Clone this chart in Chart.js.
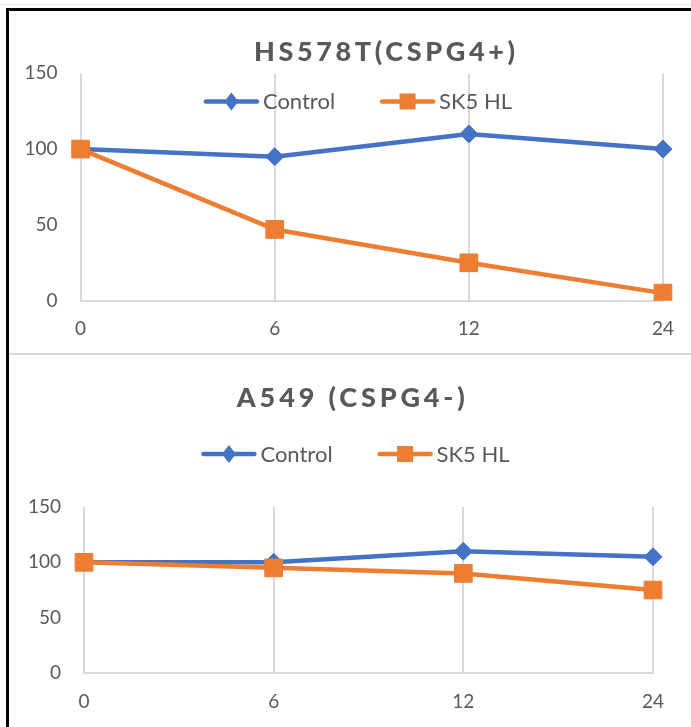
<!DOCTYPE html>
<html>
<head>
<meta charset="utf-8">
<script src="https://cdn.jsdelivr.net/npm/chart.js@4"></script>
<style>
html,body{margin:0;padding:0;background:#fff;}
body{width:691px;height:727px;position:relative;overflow:hidden;}
.grey{position:absolute;left:0;top:4px;width:691px;height:1px;background:#e3e3e3;}
.btop{position:absolute;left:6px;top:8px;width:685px;height:3px;background:#000;}
.bleft{position:absolute;left:6px;top:8px;width:3px;height:719px;background:#000;}
.sep{position:absolute;left:9px;top:353px;width:682px;height:2px;background:#d9d9d9;}
#w1{position:absolute;left:9px;top:11px;width:682px;height:342px;}
#w2{position:absolute;left:9px;top:355px;width:682px;height:372px;}
canvas{display:block;}
</style>
</head>
<body>
<div class="grey"></div>
<div class="btop"></div>
<div class="bleft"></div>
<div class="sep"></div>
<div id="w1"><canvas id="c1" width="682" height="342"></canvas></div>
<div id="w2"><canvas id="c2" width="682" height="372"></canvas></div>
<script>
// ---- data ----
const timepoints = ['0', '6', '12', '24'];
const seriesNames = ['Control', 'SK5 HL'];
const titles = ['HS578T(CSPG4+)', 'A549 (CSPG4-)'];
const hsControl = [100, 95, 110, 100];
const hsSK5 = [100, 47, 25, 5];
const a549Control = [100, 100, 110, 105];
const a549SK5 = [100, 95, 90, 75];
const yTicks = [0, 50, 100, 150];

const BLUE = '#4472C4', ORANGE = '#ED7D31', TEXT = '#595959', GRID = '#D9D9D9';
const FONT = 'Lato, "Open Sans", sans-serif';

const decor = {
  id: 'decor',
  afterDraw(chart, args, o) {
    const ctx = chart.ctx;
    ctx.save();
    // title with letter spacing
    ctx.font = '900 27px ' + FONT;
    ctx.fillStyle = TEXT;
    ctx.textBaseline = 'alphabetic';
    ctx.textAlign = 'left';
    const t = o.title;
    const n = [...t].length;
    ctx.letterSpacing = '0px';
    const w0 = ctx.measureText(t).width;
    const sp = (o.titleWidth - w0) / (n - 1);
    ctx.letterSpacing = sp + 'px';
    ctx.fillText(t, o.titleX - o.titleWidth / 2, o.titleBase);
    ctx.letterSpacing = '0px';
    // legend
    ctx.font = '22px ' + FONT;
    const items = chart.data.datasets.map(d => ({text: d.label, color: d.borderColor, style: d.pointStyle}));
    const lineLen = 55, gap = 4, itemGap = 45;
    let total = 0;
    items.forEach((it, i) => { it.w = ctx.measureText(it.text).width; total += lineLen + gap + it.w + (i ? itemGap : 0); });
    let x = o.legendX - total / 2;
    const ly = o.legendY;
    items.forEach(it => {
      ctx.strokeStyle = it.color; ctx.lineWidth = 4.5; ctx.lineCap = 'round';
      ctx.beginPath(); ctx.moveTo(x + 2, ly); ctx.lineTo(x + lineLen - 2, ly); ctx.stroke();
      const cx = x + lineLen / 2;
      ctx.fillStyle = it.color;
      ctx.beginPath();
      if (it.style === 'rectRot') {
        ctx.moveTo(cx, ly - 9); ctx.lineTo(cx + 7, ly); ctx.lineTo(cx, ly + 9); ctx.lineTo(cx - 7, ly); ctx.closePath();
      } else {
        ctx.rect(cx - 8, ly - 8, 16, 16);
      }
      ctx.fill();
      ctx.fillStyle = TEXT;
      ctx.fillText(it.text, x + lineLen + gap, o.legendBase);
      x += lineLen + gap + it.w + itemGap;
    });
    ctx.restore();
  }
};

function makeChart(id, ctrl, sk5, o) {
  return new Chart(document.getElementById(id), {
    type: 'line',
    data: {
      labels: timepoints,
      datasets: [
        {label: seriesNames[0], data: ctrl, borderColor: BLUE, backgroundColor: BLUE,
         pointStyle: 'rectRot', pointRadius: 9, pointBorderWidth: 1, borderWidth: 4.5,
         borderCapStyle: 'round', borderJoinStyle: 'round', order: 1},
        {label: seriesNames[1], data: sk5, borderColor: ORANGE, backgroundColor: ORANGE,
         pointStyle: 'rect', pointRadius: 12.5, pointBorderWidth: 1, borderWidth: 4.5,
         borderCapStyle: 'round', borderJoinStyle: 'round', order: 0}
      ]
    },
    options: {
      responsive: false, animation: false, devicePixelRatio: 1,
      layout: {padding: {left: 0, right: o.padRight, top: o.padTop, bottom: 0}},
      plugins: {
        legend: {display: false}, title: {display: false}, tooltip: {enabled: false},
        decor: o.decor
      },
      scales: {
        x: {
          type: 'category', offset: false,
          grid: {color: GRID, lineWidth: 2, drawTicks: false},
          border: {display: true, color: GRID, width: 2},
          ticks: {color: TEXT, font: {family: FONT, size: 19}, padding: 17, maxRotation: 0, autoSkip: false},
          afterFit(s) { s.height = o.xH; }
        },
        y: {
          min: 0, max: 150,
          grid: {display: false, drawTicks: false},
          border: {display: false},
          ticks: {color: TEXT, font: {family: FONT, size: 19}, padding: 23},
          afterBuildTicks(s) { s.ticks = yTicks.map(v => ({value: v})); },
          afterFit(s) { s.width = o.yW; }
        }
      }
    },
    plugins: [decor]
  });
}

function build() {
  makeChart('c1', hsControl, hsSK5, {
    padRight: 23.6, padTop: 62.3, xH: 52.3, yW: 71.6,
    decor: {title: titles[0], titleX: 375.5, titleWidth: 261, titleBase: 49.7,
            legendX: 349, legendY: 90.5, legendBase: 98.3}
  });
  makeChart('c2', a549Control, a549SK5, {
    padRight: 38, padTop: 152, xH: 54, yW: 75,
    decor: {title: titles[1], titleX: 341.8, titleWidth: 228, titleBase: 51.5,
            legendX: 346.5, legendY: 99, legendBase: 107.3}
  });
}

Promise.all([
  document.fonts.load('22px Lato'),
  document.fonts.load('900 27px Lato'),
  document.fonts.load('19px Lato')
]).then(build, build);
</script>
</body>
</html>
